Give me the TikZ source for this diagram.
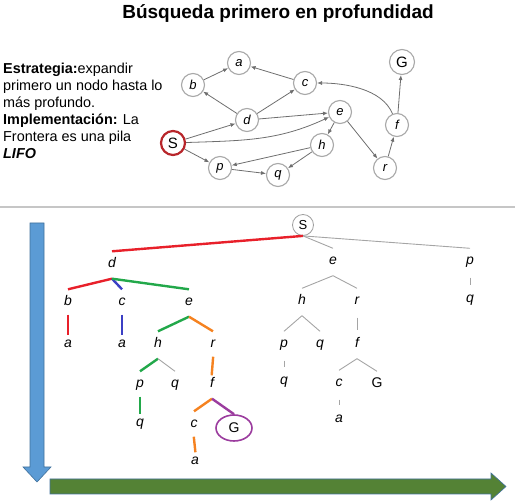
\documentclass[tikz,border=0pt]{standalone}
\usepackage{fontspec}
\setmainfont{Liberation Sans}
\usetikzlibrary{arrows.meta,positioning,shapes.geometric}
\definecolor{ring}{HTML}{A8A8A8}
\definecolor{edgegray}{HTML}{6E6E6E}
\definecolor{startred}{HTML}{B8262B}
\definecolor{treegray}{HTML}{A5A5A5}
\definecolor{tred}{HTML}{E8202A}
\definecolor{tblue}{HTML}{3B3FC4}
\definecolor{tgreen}{HTML}{22A84A}
\definecolor{torange}{HTML}{F58220}
\definecolor{tpurple}{HTML}{9B3C9E}
\definecolor{depthblue}{HTML}{5B9BD5}
\definecolor{depthedge}{HTML}{41719C}
\definecolor{widthgreen}{HTML}{548235}

\begin{document}
\begin{tikzpicture}[x=1pt, y=1pt,
  every node/.style={font=\fontsize{14.4}{17}\selectfont},
  gnode/.style={circle, draw=ring, line width=1.1pt, fill=white, minimum size=23pt,
    inner sep=0pt, font=\fontsize{13}{13}\selectfont\itshape},
  garrow/.style={-{Latex[length=5pt,width=4pt]}, draw=edgegray, line width=0.8pt},
  tnode/.style={font=\fontsize{14}{14}\selectfont\itshape, text height=9pt,
    text depth=3pt, inner xsep=1pt, inner ysep=7.5pt},
  tline/.style={line width=2.4pt},
  tgray/.style={draw=treegray, line width=0.9pt},
  tvert/.style={shorten <=-2pt, shorten >=-4pt},
  tshort/.style={shorten <=2pt, shorten >=1pt}
]
  \useasboundingbox (0,0) rectangle (523,504);

  \node[font=\bfseries\fontsize{19}{19}\selectfont] (title) at (278,490)
    {Búsqueda primero en profundidad};

  \node[anchor=north west, align=left, inner sep=0pt] (strat) at (3,441.5)
    {\textbf{Estrategia:}expandir\\ primero un nodo hasta lo\\ más profundo.\\
     \textbf{Implementación:} La\\ Frontera es una pila\\ \textbf{\textit{LIFO}}};

  % state graph
  \foreach \n/\x/\y in {a/239/441, b/193/419, c/305/421, d/247/384, e/340/392,
                        h/322/359, p/220/336, q/278/329, r/385/336, f/397/379} {
    \node[gnode] (\n) at (\x,\y) {\n};
  }
  \node[gnode, draw=startred, line width=2.2pt, minimum size=24pt,
    font=\fontsize{15}{15}\selectfont] (S) at (173,361) {S};
  \node[gnode, minimum size=25pt, font=\fontsize{15}{15}\selectfont] (G) at (402,442) {G};

  \foreach \u/\v in {b/a, c/a, d/b, d/c, S/d, d/e, S/p, p/q, h/p, h/q, e/h, e/r, r/f, f/G} {
    \draw[garrow] (\u) -- (\v);
  }
  \draw[garrow] (S) to[out=2, in=205] (e);
  \draw[garrow] (f) to[out=112, in=0, looseness=0.85] (c);

  \draw[draw=gray!45, line width=1.6pt] (0,297) -- (515,297);

  % search tree
  \node[circle, draw=gray!75, line width=0.8pt, minimum size=21pt, inner sep=0pt,
    font=\fontsize{13}{13}\selectfont] (S0) at (303,279) {S};
  \foreach \n/\t/\x/\y in {d1/d/112/239, e1/e/333/242, p1/p/470/242, q1/q/470/204,
      b2/b/68/201, c2/c/122/201, e2/e/189/201, a2/a/68/159, a3/a/122/159,
      h2/h/158/159, r2/r/213/159, p2/p/140/119, q2/q/175/119, f2/f/212/119,
      q3/q/140/80, c3/c/194/79, a4/a/195/42,
      h4/h/302/202, r4/r/357/202, p4/p/284/159, q4/q/320/159, f4/f/357/159,
      q5/q/284/122, c5/c/339/120, a5/a/339/84} {
    \node[tnode] (\n) at (\x,\y) {\t};
  }
  \node[tnode, font=\fontsize{14}{14}\selectfont] (G5) at (377,119) {G};
  \node[ellipse, draw=tpurple, line width=1.6pt, minimum width=36pt, minimum height=26pt,
    inner sep=0pt, font=\fontsize{14}{14}\selectfont] (G3) at (234,76) {G};

  \foreach \u/\v/\c in {S0/d1/tred, d1/b2/tred, d1/c2/tblue, d1/e2/tgreen, e2/h2/tgreen,
      h2/p2/tgreen, e2/r2/torange, f2/c3/torange, f2/G3/tpurple} {
    \draw[tline, draw=\c] (\u.south) -- (\v.north);
  }
  \foreach \u/\v/\c in {b2/a2/tred, c2/a3/tblue, p2/q3/tgreen, r2/f2/torange, c3/a4/torange} {
    \draw[tline, tvert, draw=\c] (\u.south) -- (\v.north);
  }
  \foreach \u/\v in {S0/e1, S0/p1, h2/q2, e1/h4, e1/r4, h4/p4, h4/q4, f4/c5, f4/G5} {
    \draw[tgray] (\u.south) -- (\v.north);
  }
  \foreach \u/\v in {p1/q1, p4/q5, r4/f4, c5/a5} {
    \draw[tgray, tshort] (\u.south) -- (\v.north);
  }

  % depth and breadth arrows
  \draw[fill=depthblue, draw=depthedge, line width=0.6pt]
    (30,281) -- (44,281) -- (44,37) -- (51,37) -- (37,22) -- (23,37) -- (30,37) -- cycle;
  \draw[fill=widthgreen, draw=depthedge, line width=0.6pt]
    (50,25) -- (491,25) -- (491,31) -- (506,17.5) -- (491,4) -- (491,10) -- (50,10) -- cycle;
\end{tikzpicture}
\end{document}
